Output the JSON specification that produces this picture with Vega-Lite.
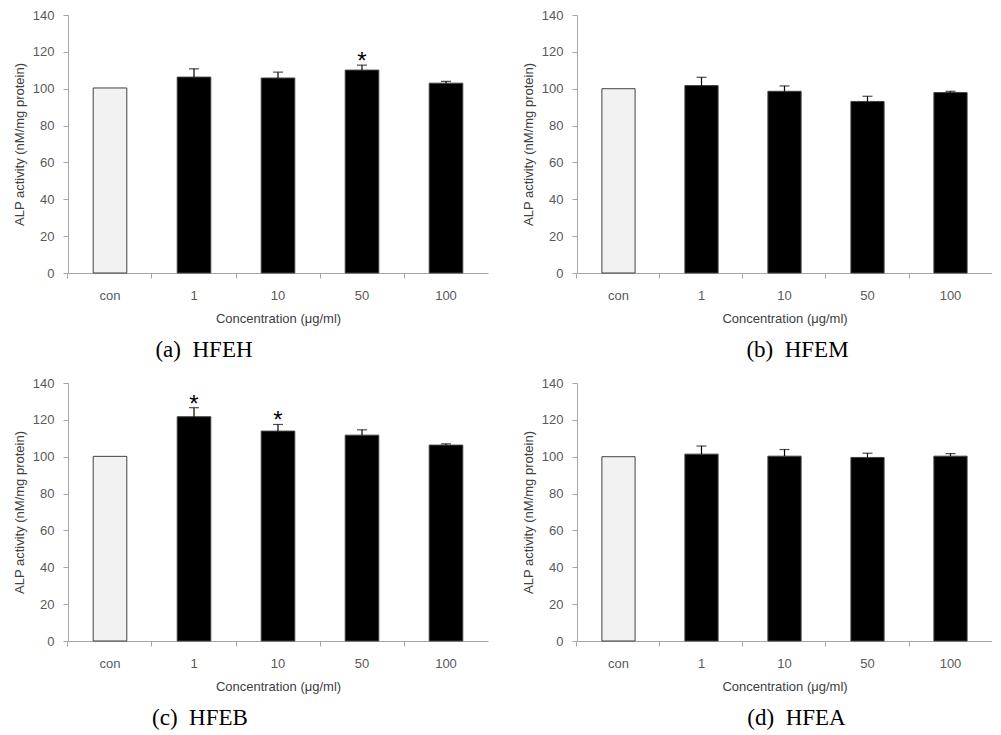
{
  "$schema": "https://vega.github.io/schema/vega-lite/v6.json",
  "background": "white",
  "padding": {"left": 13, "top": 9, "right": 0, "bottom": 0},
  "config": {
    "view": {"stroke": null},
    "axis": {
      "labelFont": "Liberation Sans", "labelFontSize": 13, "labelColor": "#595959",
      "titleFont": "Liberation Sans", "titleFontSize": 13, "titleColor": "#404040", "titleFontWeight": "normal",
      "domainColor": "#a6a6a6", "tickColor": "#a6a6a6", "tickSize": 5, "grid": false, "labelOverlap": false
    },
    "axisX": {"labelAngle": 0, "bandPosition": -0.75, "labelPadding": 11, "titlePadding": 10},
    "axisY": {"labelPadding": 9, "titlePadding": 6},
    "title": {"orient": "bottom", "font": "Liberation Serif", "fontSize": 23, "fontWeight": "normal", "color": "#000000", "offset": 14, "frame": "group", "anchor": "middle"}
  },
  "datasets": {
    "a": [
      {"conc": "con", "value": 100.4, "upper": null, "sig": ""},
      {"conc": "1", "value": 106.3, "upper": 110.8, "sig": ""},
      {"conc": "10", "value": 105.8, "upper": 109.0, "sig": ""},
      {"conc": "50", "value": 110.1, "upper": 112.8, "sig": "*"},
      {"conc": "100", "value": 103.0, "upper": 104.0, "sig": ""}
    ],
    "b": [
      {"conc": "con", "value": 100.0, "upper": null, "sig": ""},
      {"conc": "1", "value": 101.7, "upper": 106.2, "sig": ""},
      {"conc": "10", "value": 98.6, "upper": 101.5, "sig": ""},
      {"conc": "50", "value": 93.1, "upper": 95.9, "sig": ""},
      {"conc": "100", "value": 97.9, "upper": 98.6, "sig": ""}
    ],
    "c": [
      {"conc": "con", "value": 100.2, "upper": null, "sig": ""},
      {"conc": "1", "value": 121.7, "upper": 126.6, "sig": "*"},
      {"conc": "10", "value": 113.9, "upper": 117.5, "sig": "*"},
      {"conc": "50", "value": 111.7, "upper": 114.6, "sig": ""},
      {"conc": "100", "value": 106.3, "upper": 107.0, "sig": ""}
    ],
    "d": [
      {"conc": "con", "value": 100.0, "upper": null, "sig": ""},
      {"conc": "1", "value": 101.4, "upper": 105.8, "sig": ""},
      {"conc": "10", "value": 100.3, "upper": 103.9, "sig": ""},
      {"conc": "50", "value": 99.6, "upper": 101.9, "sig": ""},
      {"conc": "100", "value": 100.3, "upper": 101.7, "sig": ""}
    ]
  },
  "columns": 2,
  "spacing": {"row": 15, "column": 34},
  "concat": [
    {
      "width": 420, "height": 258,
      "title": {"text": "(a)\u00a0 HFEH", "dx": -74},
      "data": {"name": "a"},
      "encoding": {"x": {"field": "conc", "type": "nominal", "sort": ["con", "1", "10", "50", "100"], "scale": {"paddingInner": 0.6, "paddingOuter": 0.3}, "title": "Concentration (μg/ml)"}},
      "layer": [
        {"mark": {"type": "bar", "stroke": "#404040", "strokeWidth": 1},
         "encoding": {"y": {"field": "value", "type": "quantitative", "scale": {"domain": [0, 140]}, "axis": {"values": [0, 20, 40, 60, 80, 100, 120, 140], "labelOverlap": false}, "title": "ALP activity (nM/mg protein)"},
                      "fill": {"condition": {"test": "datum.conc === 'con'", "value": "#f2f2f2"}, "value": "#000000"}}},
        {"transform": [{"filter": "datum.upper != null"}], "mark": {"type": "rule", "color": "#000000", "strokeWidth": 1.2},
         "encoding": {"y": {"field": "value", "type": "quantitative", "axis": {"values": [0, 20, 40, 60, 80, 100, 120, 140], "labelOverlap": false}, "title": "ALP activity (nM/mg protein)"}, "y2": {"field": "upper"}}},
        {"transform": [{"filter": "datum.upper != null"}], "mark": {"type": "tick", "color": "#000000", "thickness": 1.2, "size": 10, "orient": "horizontal"},
         "encoding": {"y": {"field": "upper", "type": "quantitative", "axis": {"values": [0, 20, 40, 60, 80, 100, 120, 140], "labelOverlap": false}, "title": "ALP activity (nM/mg protein)"}}},
        {"transform": [{"filter": "datum.sig != ''"}], "mark": {"type": "text", "font": "Liberation Sans", "fontSize": 24, "baseline": "middle", "dy": -3, "color": "#000000"},
         "encoding": {"y": {"field": "upper", "type": "quantitative", "axis": {"values": [0, 20, 40, 60, 80, 100, 120, 140], "labelOverlap": false}, "title": "ALP activity (nM/mg protein)"}, "text": {"field": "sig"}}}
      ]
    },
    {
      "width": 415, "height": 258,
      "title": {"text": "(b)\u00a0 HFEM", "dx": 13},
      "data": {"name": "b"},
      "encoding": {"x": {"field": "conc", "type": "nominal", "sort": ["con", "1", "10", "50", "100"], "scale": {"paddingInner": 0.6, "paddingOuter": 0.3}, "title": "Concentration (μg/ml)"}},
      "layer": [
        {"mark": {"type": "bar", "stroke": "#404040", "strokeWidth": 1},
         "encoding": {"y": {"field": "value", "type": "quantitative", "scale": {"domain": [0, 140]}, "axis": {"values": [0, 20, 40, 60, 80, 100, 120, 140], "labelOverlap": false}, "title": "ALP activity (nM/mg protein)"},
                      "fill": {"condition": {"test": "datum.conc === 'con'", "value": "#f2f2f2"}, "value": "#000000"}}},
        {"transform": [{"filter": "datum.upper != null"}], "mark": {"type": "rule", "color": "#000000", "strokeWidth": 1.2},
         "encoding": {"y": {"field": "value", "type": "quantitative", "axis": {"values": [0, 20, 40, 60, 80, 100, 120, 140], "labelOverlap": false}, "title": "ALP activity (nM/mg protein)"}, "y2": {"field": "upper"}}},
        {"transform": [{"filter": "datum.upper != null"}], "mark": {"type": "tick", "color": "#000000", "thickness": 1.2, "size": 10, "orient": "horizontal"},
         "encoding": {"y": {"field": "upper", "type": "quantitative", "axis": {"values": [0, 20, 40, 60, 80, 100, 120, 140], "labelOverlap": false}, "title": "ALP activity (nM/mg protein)"}}}
      ]
    },
    {
      "width": 420, "height": 258,
      "title": {"text": "(c)\u00a0 HFEB", "dx": -78},
      "data": {"name": "c"},
      "encoding": {"x": {"field": "conc", "type": "nominal", "sort": ["con", "1", "10", "50", "100"], "scale": {"paddingInner": 0.6, "paddingOuter": 0.3}, "title": "Concentration (μg/ml)"}},
      "layer": [
        {"mark": {"type": "bar", "stroke": "#404040", "strokeWidth": 1},
         "encoding": {"y": {"field": "value", "type": "quantitative", "scale": {"domain": [0, 140]}, "axis": {"values": [0, 20, 40, 60, 80, 100, 120, 140], "labelOverlap": false}, "title": "ALP activity (nM/mg protein)"},
                      "fill": {"condition": {"test": "datum.conc === 'con'", "value": "#f2f2f2"}, "value": "#000000"}}},
        {"transform": [{"filter": "datum.upper != null"}], "mark": {"type": "rule", "color": "#000000", "strokeWidth": 1.2},
         "encoding": {"y": {"field": "value", "type": "quantitative", "axis": {"values": [0, 20, 40, 60, 80, 100, 120, 140], "labelOverlap": false}, "title": "ALP activity (nM/mg protein)"}, "y2": {"field": "upper"}}},
        {"transform": [{"filter": "datum.upper != null"}], "mark": {"type": "tick", "color": "#000000", "thickness": 1.2, "size": 10, "orient": "horizontal"},
         "encoding": {"y": {"field": "upper", "type": "quantitative", "axis": {"values": [0, 20, 40, 60, 80, 100, 120, 140], "labelOverlap": false}, "title": "ALP activity (nM/mg protein)"}}},
        {"transform": [{"filter": "datum.sig != ''"}], "mark": {"type": "text", "font": "Liberation Sans", "fontSize": 24, "baseline": "middle", "dy": -3, "color": "#000000"},
         "encoding": {"y": {"field": "upper", "type": "quantitative", "axis": {"values": [0, 20, 40, 60, 80, 100, 120, 140], "labelOverlap": false}, "title": "ALP activity (nM/mg protein)"}, "text": {"field": "sig"}}}
      ]
    },
    {
      "width": 415, "height": 258,
      "title": {"text": "(d)\u00a0 HFEA", "dx": 12},
      "data": {"name": "d"},
      "encoding": {"x": {"field": "conc", "type": "nominal", "sort": ["con", "1", "10", "50", "100"], "scale": {"paddingInner": 0.6, "paddingOuter": 0.3}, "title": "Concentration (μg/ml)"}},
      "layer": [
        {"mark": {"type": "bar", "stroke": "#404040", "strokeWidth": 1},
         "encoding": {"y": {"field": "value", "type": "quantitative", "scale": {"domain": [0, 140]}, "axis": {"values": [0, 20, 40, 60, 80, 100, 120, 140], "labelOverlap": false}, "title": "ALP activity (nM/mg protein)"},
                      "fill": {"condition": {"test": "datum.conc === 'con'", "value": "#f2f2f2"}, "value": "#000000"}}},
        {"transform": [{"filter": "datum.upper != null"}], "mark": {"type": "rule", "color": "#000000", "strokeWidth": 1.2},
         "encoding": {"y": {"field": "value", "type": "quantitative", "axis": {"values": [0, 20, 40, 60, 80, 100, 120, 140], "labelOverlap": false}, "title": "ALP activity (nM/mg protein)"}, "y2": {"field": "upper"}}},
        {"transform": [{"filter": "datum.upper != null"}], "mark": {"type": "tick", "color": "#000000", "thickness": 1.2, "size": 10, "orient": "horizontal"},
         "encoding": {"y": {"field": "upper", "type": "quantitative", "axis": {"values": [0, 20, 40, 60, 80, 100, 120, 140], "labelOverlap": false}, "title": "ALP activity (nM/mg protein)"}}}
      ]
    }
  ]
}
